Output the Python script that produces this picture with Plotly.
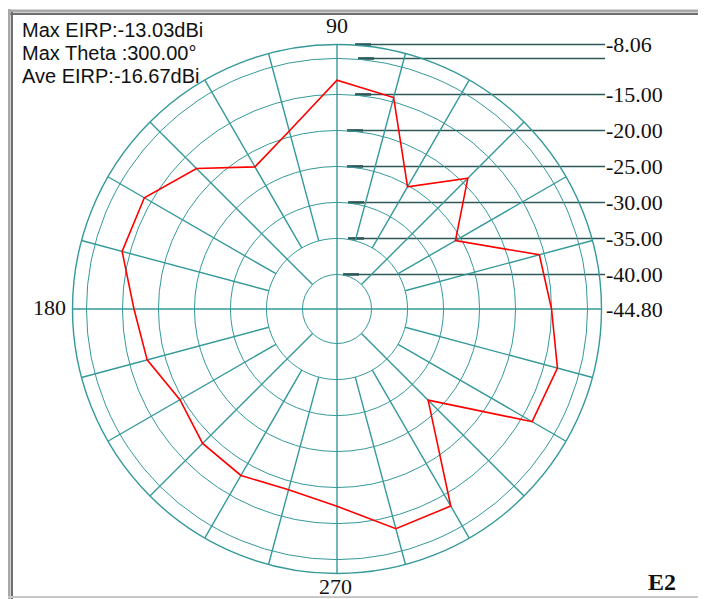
import plotly.graph_objects as go

# ---------------- data ----------------
angles = list(range(0, 360, 15))
eirp_db = [-15.0, -15.7, -25.8, -19.1, -25.2, -14.4, -13.03, -19.2, -22.0, -17.2, -13.9, -13.9,
           -16.6, -17.5, -19.6, -18.4, -18.1, -18.8, -17.4, -13.2, -13.2, -26.9, -13.5, -13.1]
r_min = -44.80
r_max = -8.06
grid_levels = [-40, -35, -30, -25, -20, -15, -10]
line_levels = [-8.06, -10, -15, -20, -25, -30, -35, -40]
label_levels = [-8.06, -15.00, -20.00, -25.00, -30.00, -35.00, -40.00, -44.80]
label_texts = ['-8.06', '-15.00', '-20.00', '-25.00', '-30.00', '-35.00', '-40.00', '-44.80']
angle_label_vals = [90, 180, 270]
angle_label_texts = ['90', '180', '270']
stats_lines = ['Max EIRP:-13.03dBi', 'Max Theta :300.00\u00b0', 'Ave EIRP:-16.67dBi']
corner_title = 'E2'

# ---------------- layout geometry (page pixels) ----------------
W_PAGE, H_PAGE, PAD = 706, 599, 8
W, H = W_PAGE - PAD, H_PAGE - PAD
CX, CY, R = 337, 309, 264.5
GRID = '#35999a'
DARK = '#2e5858'
LINE_START = [355, 358, 355, 347, 347, 348, 348, 343]


def px(x):
    return (x - PAD) / W


def py(y):
    return 1 - (y - PAD) / H


fig = go.Figure()

# spokes of the polar grid
for a in angles:
    if a % 90 == 0:
        start = r_min
    elif a % 45 == 0:
        start = -40
    else:
        start = -35
    fig.add_trace(go.Scatterpolar(r=[start, r_max], theta=[a, a], mode='lines',
                                  line=dict(color=GRID, width=1.4), hoverinfo='skip',
                                  showlegend=False))

# horizontal level lines on a cartesian overlay that shares the radial scale
span = r_max - r_min
y_top = r_min + (CY - PAD) / R * span
y_bot = r_min + (CY - H_PAGE) / R * span
hx, hy, tx, ty = [], [], [], []
for lv, xs in zip(line_levels, LINE_START):
    hx += [xs, 605, None]
    hy += [lv, lv, None]
    tx += [xs, xs + 16, None]
    ty += [lv, lv, None]
fig.add_trace(go.Scatter(x=hx, y=hy, mode='lines', line=dict(color=DARK, width=1.4),
                         hoverinfo='skip', showlegend=False, xaxis='x', yaxis='y'))
fig.add_trace(go.Scatter(x=tx, y=ty, mode='lines', line=dict(color=DARK, width=2.6),
                         hoverinfo='skip', showlegend=False, xaxis='x', yaxis='y'))

# pattern
fig.add_trace(go.Scatterpolar(r=eirp_db + [eirp_db[0]], theta=angles + [360], mode='lines',
                              line=dict(color='#ff0000', width=1.6), showlegend=False))

annotations = []
for lv, t in zip(label_levels, label_texts):
    annotations.append(dict(x=604, y=lv, xref='x', yref='y', text=t, showarrow=False,
                            xanchor='left', yanchor='middle',
                            font=dict(family='Liberation Serif', size=22, color='#111111')))

angle_pos = {90: (337, 26, 'center'), 180: (68, 307, 'right'), 270: (335, 586, 'center')}
for a, t in zip(angle_label_vals, angle_label_texts):
    x, y, anc = angle_pos[a]
    annotations.append(dict(x=px(x), y=py(y), xref='paper', yref='paper', text=t,
                            showarrow=False, xanchor=anc, yanchor='middle',
                            font=dict(family='Liberation Serif', size=22, color='#111111')))

for i, s in enumerate(stats_lines):
    annotations.append(dict(x=px(20), y=py(30 + 23 * i), xref='paper', yref='paper', text=s,
                            showarrow=False, xanchor='left', yanchor='middle',
                            font=dict(family='Liberation Sans', size=20, color='#111111')))

annotations.append(dict(x=px(678), y=py(582), xref='paper', yref='paper', text='<b>' + corner_title + '</b>',
                        showarrow=False, xanchor='right', yanchor='middle',
                        font=dict(family='Liberation Serif', size=24, color='#111111')))

shapes = [
    dict(type='line', xref='paper', yref='paper', x0=px(8), x1=px(720), y0=py(11), y1=py(11),
         line=dict(color='#a8a8a8', width=3)),
    dict(type='line', xref='paper', yref='paper', x0=px(8), x1=px(720), y0=py(14), y1=py(14),
         line=dict(color='#6e6e6e', width=2)),
    dict(type='line', xref='paper', yref='paper', x0=px(9), x1=px(9), y0=py(9), y1=py(600),
         line=dict(color='#a8a8a8', width=3)),
    dict(type='line', xref='paper', yref='paper', x0=px(12), x1=px(12), y0=py(12), y1=py(600),
         line=dict(color='#6e6e6e', width=2)),
    dict(type='line', xref='paper', yref='paper', x0=px(8), x1=px(720), y0=py(597), y1=py(597),
         line=dict(color='#c8c8c8', width=2)),
]

fig.update_layout(
    width=W, height=H,
    margin=dict(l=0, r=0, t=0, b=0),
    paper_bgcolor='white', plot_bgcolor='rgba(0,0,0,0)',
    showlegend=False,
    xaxis=dict(domain=[0, 1], range=[PAD, W_PAGE], visible=False, fixedrange=True),
    yaxis=dict(domain=[0, 1], range=[y_bot, y_top], visible=False, fixedrange=True),
    polar=dict(
        domain=dict(x=[px(CX - R), px(CX + R)], y=[py(CY + R), py(CY - R)]),
        bgcolor='rgba(0,0,0,0)',
        radialaxis=dict(range=[r_min, r_max], tickvals=grid_levels, showticklabels=False,
                        ticks='', showline=False, showgrid=True, gridcolor=GRID, gridwidth=1.4),
        angularaxis=dict(rotation=0, direction='counterclockwise', showgrid=False,
                         showticklabels=False, ticks='', showline=True, linecolor=GRID,
                         linewidth=1.4),
    ),
    annotations=annotations,
    shapes=shapes,
)

fig.write_html('out.html')
